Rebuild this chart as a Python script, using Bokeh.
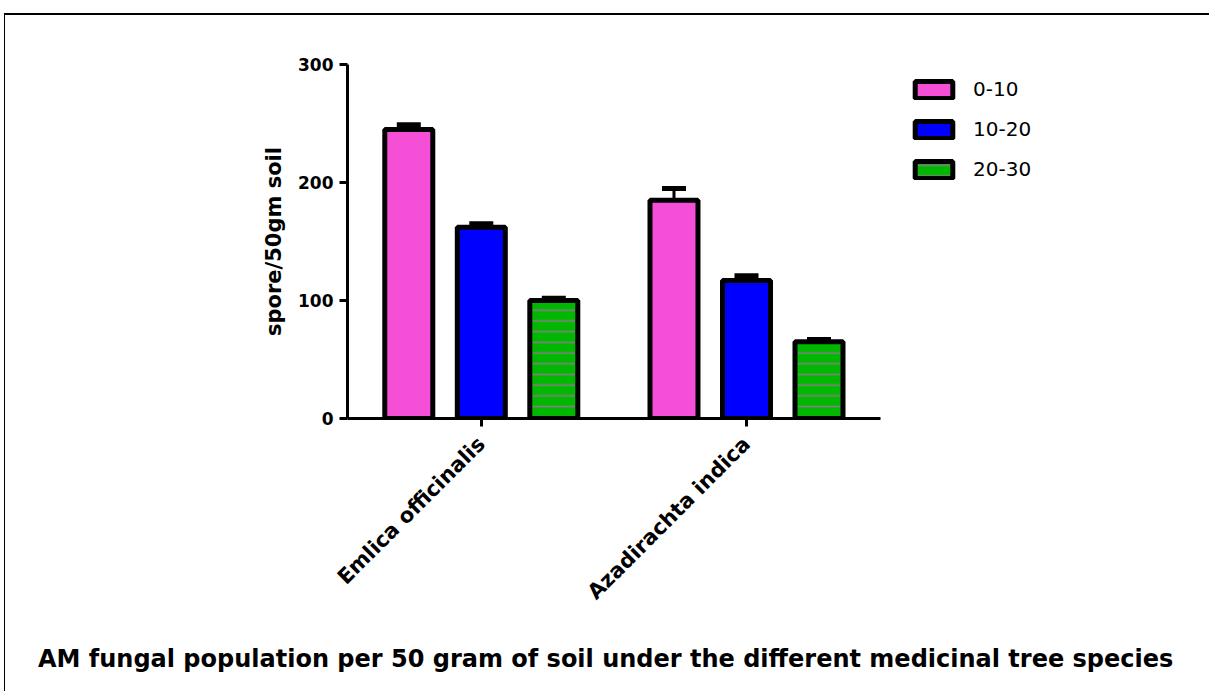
import math
from bokeh.plotting import figure
from bokeh.models import (Range1d, FixedTicker, Whisker, TeeHead, ColumnDataSource,
                          Legend, LegendItem, Title)
from bokeh.embed import file_html
from bokeh.resources import INLINE

# ---- data ----
groups = ["Emlica officinalis", "Azadirachta indica"]
depths = ["0-10", "10-20", "20-30"]
mean_0_10 = [245, 185]
mean_10_20 = [162, 117]
mean_20_30 = [100, 65]
err_0_10 = [4, 10]
err_10_20 = [3, 4]
err_20_30 = [2, 2]
y_ticks = [0, 100, 200, 300]
y_label = "spore/50gm soil"
title_text = "AM fungal  population  per 50 gram of soil under the different medicinal tree species"

means = [mean_0_10, mean_10_20, mean_20_30]
errs = [err_0_10, err_10_20, err_20_30]
colors = ["#F54FD8", "#0000FF", "#00B800"]
hatches = [" ", " ", "-"]

W, H = 1200, 672
L, T = 342, 49
FW, FH = 533, 354
R, B = W - L - FW, H - T - FH
FONT = "DejaVu Sans"

p = figure(frame_width=FW, frame_height=FH, output_backend="svg", toolbar_location=None,
           x_range=Range1d(0.4955, 2.5053), y_range=Range1d(0, 300),
           min_border_left=L, min_border_right=R, min_border_top=T, min_border_bottom=B,
           styles={"margin-left": "4px", "margin-top": "13px",
                   "border-top": "2px solid black", "border-left": "1px solid black"})
p.outline_line_color = None
p.xgrid.visible = False
p.ygrid.visible = False

group_x = [i + 1 for i in range(len(groups))]
offset = 0.2734
bw = 0.181
legend_items = []
for k, d in enumerate(depths):
    xs = [g + (k - 1) * offset for g in group_x]
    src = ColumnDataSource(dict(x=xs, top=means[k], upper=[m + e for m, e in zip(means[k], errs[k])]))
    r = p.vbar(x="x", top="top", bottom=0, width=bw, source=src,
               fill_color=colors[k], line_color="black", line_width=5,
               hatch_pattern=hatches[k], hatch_color="#808080", hatch_weight=1.7, hatch_scale=10.7)
    w = Whisker(base="x", upper="upper", lower="top", source=src, dimension="height",
                line_color="black", line_width=3,
                upper_head=TeeHead(size=24, line_width=5, line_color="black"), lower_head=None)
    p.add_layout(w)
    legend_items.append(LegendItem(label=d, renderers=[r]))

# axes
for ax in (p.xaxis[0], p.yaxis[0]):
    ax.axis_line_width = 3
    ax.major_tick_line_width = 3
    ax.major_tick_out = 8
    ax.major_tick_in = 0
    ax.minor_tick_line_color = None
    ax.major_label_text_font = FONT
    ax.major_label_text_font_style = "bold"
    ax.major_label_text_color = "black"

p.yaxis.ticker = FixedTicker(ticks=y_ticks)
p.yaxis.major_label_text_font_size = "17px"
p.yaxis.major_label_standoff = 6
p.yaxis.axis_label = y_label
p.yaxis.axis_label_text_font = FONT
p.yaxis.axis_label_text_font_style = "bold"
p.yaxis.axis_label_text_font_size = "21px"
p.yaxis.axis_label_text_color = "black"
p.yaxis.axis_label_standoff = 9

p.xaxis.ticker = FixedTicker(ticks=group_x)
p.xaxis.major_label_overrides = {g: name for g, name in zip(group_x, groups)}
p.xaxis.major_label_orientation = math.pi / 4
p.xaxis.major_label_text_font_size = "21px"
p.xaxis.major_label_standoff = 14

legend = Legend(items=legend_items, location=(30, 237), orientation="vertical",
                glyph_width=47, glyph_height=21, label_standoff=16,
                label_text_font=FONT, label_text_font_size="20px", label_height=22,
                label_text_color="black",
                spacing=16, padding=0, margin=0,
                border_line_color=None, background_fill_alpha=0)
p.add_layout(legend, "right")

# bottom caption
cap = Title(text=title_text, align="center", text_font=FONT, text_font_style="bold",
            text_font_size="24px", text_color="black", standoff=55)
p.add_layout(cap, "below")

open("out.html", "w").write(file_html(p, INLINE))
